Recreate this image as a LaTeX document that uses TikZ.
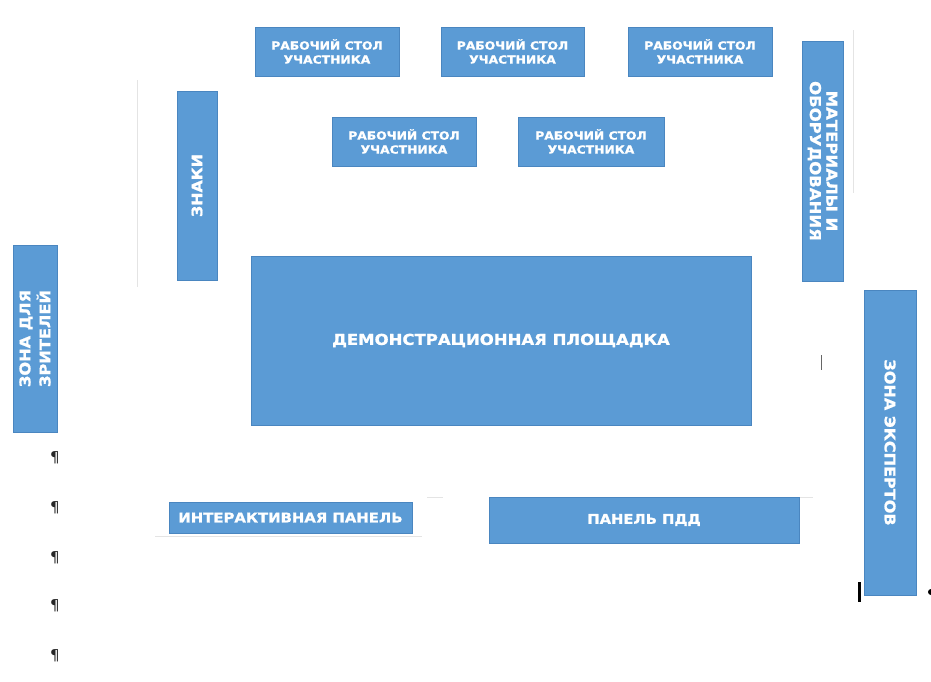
\documentclass[tikz,border=0pt]{standalone}
\usepackage{fontspec}
\newfontfamily\boxfont{DejaVu Sans}[FakeStretch=1.1, BoldFeatures={FakeBold=1.2}]
\newfontfamily\pilfont{DejaVu Sans}
\definecolor{boxblue}{HTML}{5B9BD5}
\definecolor{boxedge}{HTML}{4A86C0}
\definecolor{faint}{HTML}{E4E4E4}
\tikzset{
  box/.style={rectangle, fill=boxblue, draw=boxedge, line width=0.6pt, inner sep=0pt,
    text=white, align=center},
  fs/.style 2 args={font=\boxfont\bfseries\fontsize{#1}{#2}\selectfont},
  pil/.style={font=\pilfont\fontsize{15}{17}\selectfont, text=black!85, inner sep=0pt},
  faintline/.style={draw=faint, line width=0.8pt},
}
\begin{document}
\begin{tikzpicture}[x=1pt,y=-1pt]
\useasboundingbox (0,0) rectangle (931,681);
\fill[white] (0,0) rectangle (931,681);
% faint guide lines
\draw[faintline] (137,80) -- (137,287);
\draw[faintline] (853,30) -- (853,193);
\draw[faintline] (155,536) -- (422,536);
\draw[faintline] (427,497) -- (443,497);
\draw[faintline] (799,497) -- (813,497);
% top row tables
\node[box, fs={11.2}{14}, minimum width=144, minimum height=49] (t1) at (327,51.5) {РАБОЧИЙ СТОЛ\\УЧАСТНИКА};
\node[box, fs={11.2}{14}, minimum width=143, minimum height=49] (t2) at (512.5,51.5) {РАБОЧИЙ СТОЛ\\УЧАСТНИКА};
\node[box, fs={11.2}{14}, minimum width=144, minimum height=49] (t3) at (700,51.5) {РАБОЧИЙ СТОЛ\\УЧАСТНИКА};
% second row tables
\node[box, fs={11.2}{14}, minimum width=144, minimum height=49] (t4) at (404,141.5) {РАБОЧИЙ СТОЛ\\УЧАСТНИКА};
\node[box, fs={11.2}{14}, minimum width=146, minimum height=49] (t5) at (591,141.5) {РАБОЧИЙ СТОЛ\\УЧАСТНИКА};
% vertical boxes
\node[box, fs={14.4}{17}, rotate=90, minimum width=189, minimum height=40] (znaki) at (197,185.5) {ЗНАКИ};
\node[box, fs={15}{16.5}, rotate=-90, minimum width=240, minimum height=41] (mat) at (822.5,161) {МАТЕРИАЛЫ И\\ОБОРУДОВАНИЯ};
\node[box, fs={14.7}{20}, rotate=90, minimum width=187, minimum height=44] (view) at (35,338.5) {ЗОНА ДЛЯ\\ЗРИТЕЛЕЙ};
\node[box, fs={14.6}{17}, rotate=-90, minimum width=305, minimum height=52] (exp) at (890,442.5) {ЗОНА ЭКСПЕРТОВ};
% demo area
\node[box, fs={15}{18}, minimum width=500, minimum height=169] (demo) at (501,340.5) {ДЕМОНСТРАЦИОННАЯ ПЛОЩАДКА};
% panels
\node[box, fs={13.5}{16}, minimum width=243, minimum height=31] (inter) at (290.5,517.5) {ИНТЕРАКТИВНАЯ ПАНЕЛЬ};
\node[box, fs={13.4}{16}, minimum width=310, minimum height=46] (pdd) at (644,520) {ПАНЕЛЬ ПДД};
% pilcrows
\node[pil] (p1) at (55,458) {¶};
\node[pil] (p2) at (55,508) {¶};
\node[pil] (p3) at (55,558) {¶};
\node[pil] (p4) at (55,606) {¶};
\node[pil] (p5) at (55,656) {¶};
% cursor marks
\coordinate (m1a) at (821,355);
\coordinate (m1b) at (821,370);
\draw[black!60, line width=0.8pt] (m1a) -- (m1b);
\coordinate (m2a) at (859,582);
\coordinate (m2b) at (859,602);
\draw[black, line width=3pt] (m2a) -- (m2b);
\fill[black] (931,592) circle (3);
\end{tikzpicture}
\end{document}
